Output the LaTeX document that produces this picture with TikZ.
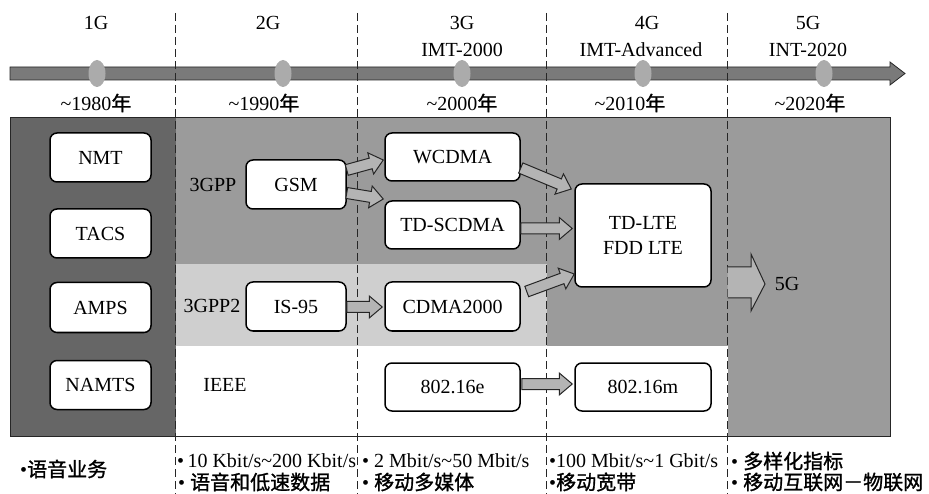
\documentclass[tikz,border=0pt]{standalone}
\usepackage{fontspec}
\setmainfont{Liberation Serif}
\newfontfamily\cjk{Noto Sans CJK SC}[FakeBold=1.2]
\usetikzlibrary{calc}
\definecolor{darkpanel}{HTML}{666666}
\definecolor{midpanel}{HTML}{9B9B9B}
\definecolor{lightpanel}{HTML}{CFCFCF}
\definecolor{bargray}{HTML}{7A7A7A}
\definecolor{dotgray}{HTML}{ABABAB}
\definecolor{arrowgray}{HTML}{B4B4B4}
\tikzset{
  box/.style={draw=black, line width=1.5pt, fill=white, rounded corners=7pt, inner sep=0pt, font=\fontsize{20}{25}\selectfont, align=center},
  lbl/.style={font=\fontsize{20}{24}\selectfont, inner sep=0pt},
  sepline/.style={draw=black!85, line width=0.9pt, dash pattern=on 8pt off 4pt},
  barrowstyle/.style={draw=black!85, fill=arrowgray, line width=1pt, line join=miter},
}
\newcommand\barrow[2]{%
  \path[barrowstyle] let \p1=($(#2)-(#1)$), \n1={atan2(\y1,\x1)}, \n2={veclen(\x1,\y1)} in
    [shift={(#1)}, rotate=\n1] (0pt,5.5pt) -- ({\n2-13pt},5.5pt) -- ({\n2-13pt},11pt) -- (\n2,0pt)
    -- ({\n2-13pt},-11pt) -- ({\n2-13pt},-5.5pt) -- (0pt,-5.5pt) -- cycle;}
\begin{document}
\begin{tikzpicture}[x=1pt,y=-1pt]
\useasboundingbox (0,0) rectangle (929,494);
% panel backgrounds
\fill[darkpanel] (10,117) rectangle (175.5,436);
\fill[midpanel] (175.5,117) rectangle (890,264);
\fill[midpanel] (546.5,264) rectangle (890,346);
\fill[midpanel] (727.5,346) rectangle (890,436);
\fill[lightpanel] (175.5,264) rectangle (546.5,346);
\fill[white] (175.5,346) rectangle (727.5,436);
\draw[black!85, line width=0.8pt] (10,117) rectangle (890,436);
% timeline bar
\draw[fill=bargray, draw=black!85, line width=0.8pt] (10,67) -- (890,67) -- (890,62) -- (905,73.5) -- (890,85) -- (890,80) -- (10,80) -- cycle;
% separators
\foreach \sx in {175.5,357,546.5,727.5} \draw[sepline] (\sx,13) -- (\sx,494);
% timeline dots
\foreach \dx in {97,283,462,643,824} \fill[dotgray] (\dx,73.5) ellipse [x radius=8.5, y radius=13.5];
% header labels
\node[lbl] (g1) at (96,23) {1G};
\node[lbl] (g2) at (268,23) {2G};
\node[lbl] (g3) at (462,23) {3G};
\node[lbl] (g4) at (647,23) {4G};
\node[lbl] (g5) at (808,23) {5G};
\node[lbl] (s3) at (462,50) {IMT-2000};
\node[lbl] (s4) at (641,50) {IMT-Advanced};
\node[lbl] (s5) at (808,50) {INT-2020};
\node[lbl] (y1) at (96,103) {\textasciitilde 1980{\cjk 年}};
\node[lbl] (y2) at (264,103) {\textasciitilde 1990{\cjk 年}};
\node[lbl] (y3) at (462,103) {\textasciitilde 2000{\cjk 年}};
\node[lbl] (y4) at (630,103) {\textasciitilde 2010{\cjk 年}};
\node[lbl] (y5) at (810,103) {\textasciitilde 2020{\cjk 年}};
% boxes
\node[box, minimum width=101pt, minimum height=49pt] (nmt) at (100.5,157.5) {NMT};
\node[box, minimum width=101pt, minimum height=49pt] (tacs) at (100.5,233.5) {TACS};
\node[box, minimum width=101pt, minimum height=50pt] (amps) at (100.5,307.5) {AMPS};
\node[box, minimum width=101pt, minimum height=49pt] (namts) at (100.5,385) {NAMTS};
\node[box, minimum width=100pt, minimum height=49pt] (gsm) at (296,184.5) {GSM};
\node[box, minimum width=100pt, minimum height=49pt] (is95) at (296,306.5) {IS-95};
\node[box, minimum width=135pt, minimum height=48pt] (wcdma) at (452.5,157) {WCDMA};
\node[box, minimum width=135pt, minimum height=48pt] (tdscdma) at (452.5,225) {TD-SCDMA};
\node[box, minimum width=135pt, minimum height=49pt] (cdma) at (452.5,306.5) {CDMA2000};
\node[box, minimum width=135pt, minimum height=48pt] (e16) at (452.5,387) {802.16e};
\node[box, minimum width=136pt, minimum height=48pt] (m16) at (643,387) {802.16m};
\node[box, minimum width=136pt, minimum height=103pt] (lte) at (643,235.5) {TD-LTE\\FDD LTE};
% side labels
\node[lbl] (gpp) at (213,185) {3GPP};
\node[lbl] (gpp2) at (212,306) {3GPP2};
\node[lbl] (ieee) at (225,385) {IEEE};
\node[lbl] (fiveg) at (787,284) {5G};
% block arrows
\coordinate (a1s) at ($(gsm.east)+(0,-14.5)$);
\coordinate (a1e) at ($(wcdma.west)+(-1,3)$);
\coordinate (a2s) at ($(gsm.east)+(0,8.5)$);
\coordinate (a2e) at ($(tdscdma.west)+(-1,-26)$);
\coordinate (a3s) at ($(is95.east)+(0,0.5)$);
\coordinate (a3e) at ($(cdma.west)+(-2,0.5)$);
\coordinate (a4s) at ($(wcdma.east)+(0,11)$);
\coordinate (a4e) at ($(lte.west)+(-3,-46.5)$);
\coordinate (a5s) at ($(tdscdma.east)+(0,3.5)$);
\coordinate (a5e) at ($(lte.west)+(-2,-7)$);
\coordinate (a6s) at ($(cdma.east)+(6,-15)$);
\coordinate (a6e) at ($(lte.west)+(0,38.5)$);
\coordinate (a7s) at ($(e16.east)+(1,-3)$);
\coordinate (a7e) at ($(m16.west)+(-2,-3)$);
\barrow{a1s}{a1e}
\barrow{a2s}{a2e}
\barrow{a3s}{a3e}
\barrow{a4s}{a4e}
\barrow{a5s}{a5e}
\barrow{a6s}{a6e}
\barrow{a7s}{a7e}
% big 5G arrow
\coordinate (b5s) at (727.5,282.5);
\draw[barrowstyle] (b5s) ++(0,-15.5) -- (751,267) -- (751,254) -- (fiveg.west -| 765,0) -- (751,311) -- (751,298) -- (727.5,298);
% bottom descriptions
\node[lbl, anchor=west] (d1) at (20,469) {\textbullet{\cjk 语音业务}};
\node[lbl, anchor=west] (d2a) at (177,461) {\textbullet\,10 Kbit/s\textasciitilde 200 Kbit/s};
\node[lbl, anchor=west] (d2b) at (178,482) {\textbullet\ {\cjk 语音和低速数据}};
\node[lbl, anchor=west] (d3a) at (362,461) {\textbullet\ 2 Mbit/s\textasciitilde 50 Mbit/s};
\node[lbl, anchor=west] (d3b) at (362,482) {\textbullet\ {\cjk 移动多媒体}};
\node[lbl, anchor=west] (d4a) at (549,461) {\textbullet 100 Mbit/s\textasciitilde 1 Gbit/s};
\node[lbl, anchor=west] (d4b) at (549,482) {\textbullet{\cjk 移动宽带}};
\node[lbl, anchor=west] (d5a) at (731,461) {\textbullet\ {\cjk 多样化指标}};
\node[lbl, anchor=west] (d5b) at (731,482) {\textbullet\ {\cjk 移动互联网－物联网}};
\end{tikzpicture}
\end{document}
